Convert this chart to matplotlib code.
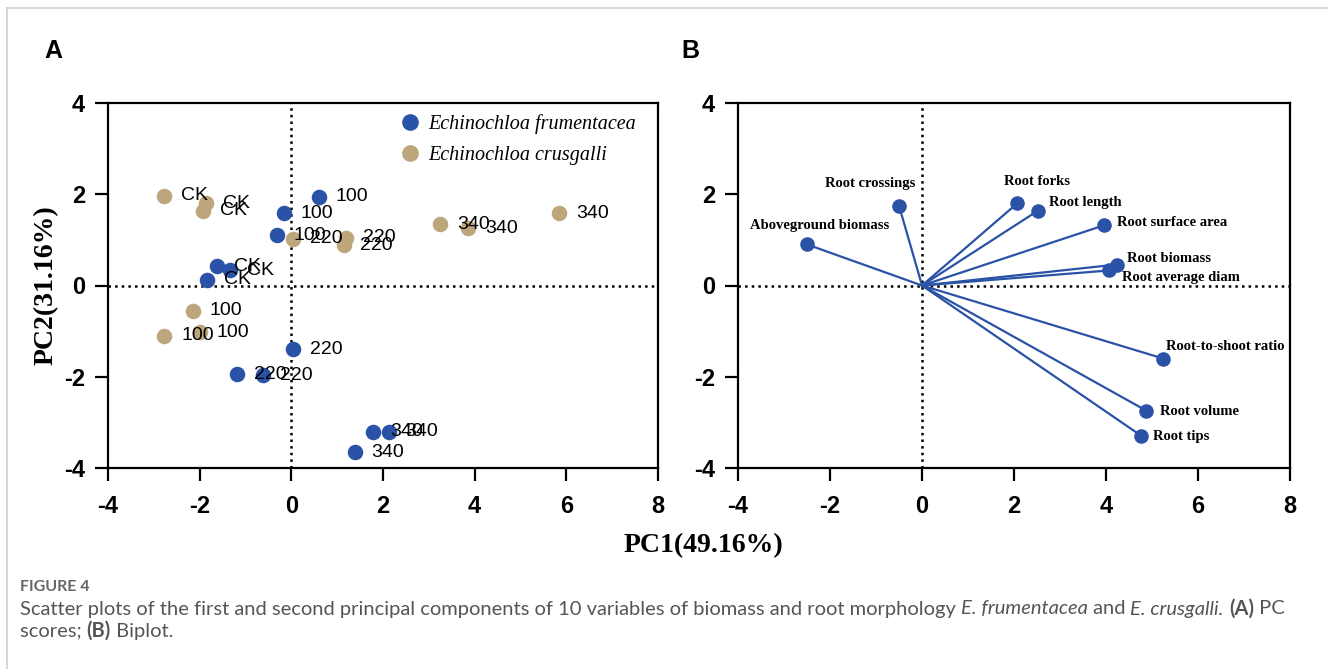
import numpy as np
import matplotlib as mpl
mpl.use('Agg')
from matplotlib import pyplot as plt
from matplotlib.lines import Line2D

plt.rcParams['axes.unicode_minus'] = False

# PC scores, panel A
fru_x = [0.61, -0.17, -0.31, -1.62, -1.33, -1.83, 0.04, -1.18, -0.61, 1.79, 2.12, 1.38]
fru_y = [1.95, 1.58, 1.10, 0.42, 0.33, 0.13, -1.40, -1.95, -1.97, -3.20, -3.20, -3.66]
fru_lab = ['100', '100', '100', 'CK', 'CK', 'CK', '220', '220', '220', '340', '340', '340']

cru_x = [-2.77, -1.86, -1.92, 0.04, 1.20, 1.14, 3.25, 3.86, 5.85, -2.14, -2.77, -2.00]
cru_y = [1.97, 1.80, 1.64, 1.03, 1.05, 0.88, 1.34, 1.25, 1.58, -0.55, -1.10, -1.03]
cru_lab = ['CK', 'CK', 'CK', '220', '220', '220', '340', '340', '340', '100', '100', '100']

# loadings, panel B
var_names = ['Aboveground biomass', 'Root crossings', 'Root forks', 'Root length',
             'Root surface area', 'Root biomass', 'Root average diam',
             'Root-to-shoot ratio', 'Root volume', 'Root tips']
load_x = [-2.50, -0.50, 2.07, 2.52, 3.96, 4.24, 4.07, 5.24, 4.87, 4.76]
load_y = [0.90, 1.75, 1.80, 1.64, 1.32, 0.46, 0.33, -1.60, -2.74, -3.29]

xticks = [-4, -2, 0, 2, 4, 6, 8]
yticks = [-4, -2, 0, 2, 4]

blue = '#2a52a6'
tan = '#bda67c'
sans = 'Liberation Sans'
serif = 'Liberation Serif'

fig = plt.figure(figsize=(13.28, 6.69), dpi=100)
axA = fig.add_axes([108/1328, 1-468/669, 550/1328, 365/669])
axB = fig.add_axes([738/1328, 1-468/669, 552/1328, 365/669])


def style_axes(ax):
    ax.set_xlim(-4, 8)
    ax.set_ylim(-4, 4)
    ax.set_xticks(xticks)
    ax.set_yticks(yticks)
    for s in ax.spines.values():
        s.set_linewidth(1.6)
    ax.tick_params(direction='out', length=9.5, width=1.6)
    ax.tick_params(axis='x', pad=10)
    ax.tick_params(axis='y', pad=7)
    for t in ax.get_xticklabels() + ax.get_yticklabels():
        t.set_fontfamily(sans)
        t.set_fontweight('bold')
        t.set_fontsize(17)
    ax.axhline(0, color='black', ls=':', lw=1.8, zorder=1)
    ax.axvline(0, color='black', ls=':', lw=1.8, zorder=1)


style_axes(axA)
style_axes(axB)

# panel A
axA.scatter(fru_x, fru_y, s=125, color=blue, zorder=3, linewidths=0)
axA.scatter(cru_x, cru_y, s=125, color=tan, zorder=3, linewidths=0)
for x, y, t in zip(fru_x + cru_x, fru_y + cru_y, fru_lab + cru_lab):
    axA.annotate(t, (x, y), xytext=(12, 0), textcoords='offset points',
                 ha='left', va='center', fontsize=14, fontfamily=sans, zorder=4)

handles = [Line2D([], [], marker='o', ls='', color=blue, markersize=11),
           Line2D([], [], marker='o', ls='', color=tan, markersize=11)]
axA.legend(handles, ['Echinochloa frumentacea', 'Echinochloa crusgalli'],
           loc='upper left', bbox_to_anchor=(0.495, 1.02), frameon=False,
           prop={'family': serif, 'style': 'italic', 'size': 14.5},
           handletextpad=0.3, labelspacing=0.6, handlelength=1.2)

axA.set_ylabel('PC2(31.16%)', fontfamily=serif, fontweight='bold', fontsize=20, labelpad=4)

# panel B
offsets = {
    'Aboveground biomass': (9, 9, 'center', 'bottom'),
    'Root crossings': (-21, 11, 'center', 'bottom'),
    'Root forks': (14, 11, 'center', 'bottom'),
    'Root length': (8, 6, 'left', 'center'),
    'Root surface area': (9, 2, 'left', 'center'),
    'Root biomass': (7, 4, 'left', 'center'),
    'Root average diam': (9, -5, 'left', 'center'),
    'Root-to-shoot ratio': (2, 9, 'left', 'center'),
    'Root volume': (10, -1, 'left', 'center'),
    'Root tips': (9, -1, 'left', 'center'),
}
for x, y, name in zip(load_x, load_y, var_names):
    axB.plot([0, x], [0, y], color=blue, lw=1.6, zorder=2)
axB.scatter(load_x, load_y, s=110, color=blue, zorder=3, linewidths=0)
for x, y, name in zip(load_x, load_y, var_names):
    dx, dy, ha, va = offsets[name]
    axB.annotate(name, (x, y), xytext=(dx, dy), textcoords='offset points',
                 ha=ha, va=va, fontsize=10.5, fontfamily=serif, fontweight='bold')

fig.text(703/1328, 1-546/669, 'PC1(49.16%)', ha='center', va='center',
         fontfamily=serif, fontweight='bold', fontsize=20)

fig.text(53/1328, 1-51/669, 'A', ha='center', va='center', fontfamily=sans,
         fontweight='bold', fontsize=18)
fig.text(690/1328, 1-51/669, 'B', ha='center', va='center', fontfamily=sans,
         fontweight='bold', fontsize=18)

# page frame
fig.add_artist(Line2D([7/1328, 1], [1-8/669, 1-8/669], transform=fig.transFigure,
                      color='#d0d0d0', lw=1.2))
fig.add_artist(Line2D([7/1328, 7/1328], [0, 1-8/669], transform=fig.transFigure,
                      color='#d0d0d0', lw=1.2))

# caption
cap_font = 'Lato'
grey = '#555555'
fig.text(20/1328, 1-587/669, 'FIGURE 4', ha='left', va='center', fontfamily=cap_font,
         fontsize=11.5, color='#666666', fontweight='bold')

fig.canvas.draw()
renderer = fig.canvas.get_renderer()


def chain(pieces, x0, y0):
    x = x0
    for txt, kw in pieces:
        t = fig.text(x, y0, txt, ha='left', va='center', fontfamily=cap_font,
                     fontsize=14.5, color=grey, **kw)
        bb = t.get_window_extent(renderer=renderer)
        x = bb.x1 / fig.bbox.width


line1 = [('Scatter plots of the first and second principal components of 10 variables of '
          'biomass and root morphology ', {}),
         ('E. frumentacea', {'style': 'italic'}),
         (' and ', {}),
         ('E. crusgalli.', {'style': 'italic'}),
         (' ', {}),
         ('(A)', {'fontweight': 'bold'}),
         (' PC', {})]
line2 = [('scores; ', {}), ('(B)', {'fontweight': 'bold'}), (' Biplot.', {})]
chain(line1, 20/1328, 1-609/669)
chain(line2, 20/1328, 1-631/669)

fig.savefig('out.png', dpi=100)
